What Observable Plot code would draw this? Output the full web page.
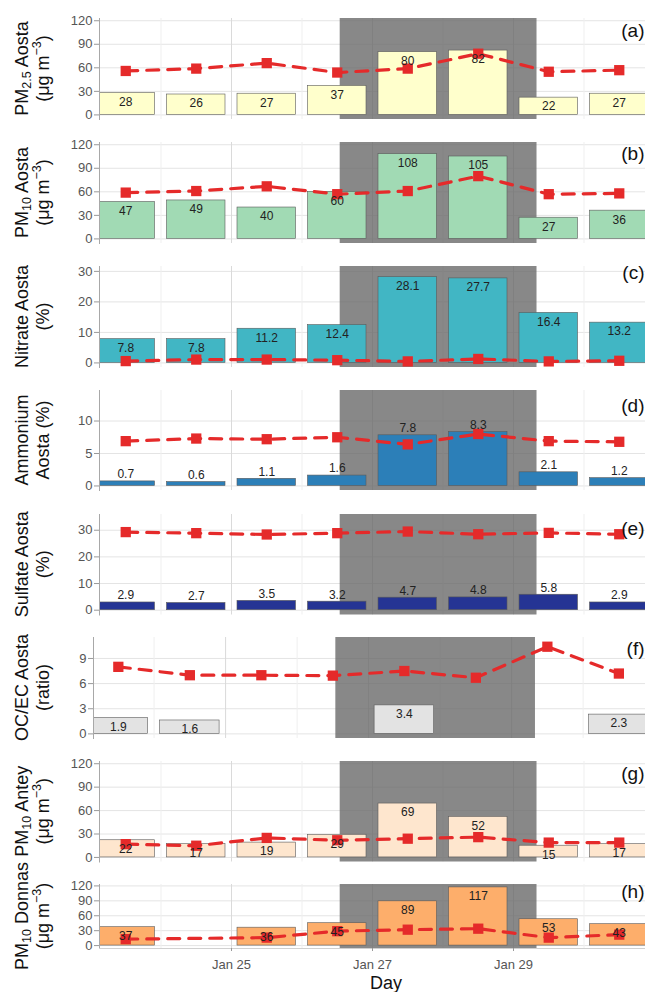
<!DOCTYPE html>
<html><head><meta charset="utf-8">
<script src="https://cdn.jsdelivr.net/npm/d3@7"></script>
<script src="https://cdn.jsdelivr.net/npm/@observablehq/plot@0.6"></script>
<style>
html,body{margin:0;padding:0;background:#fff;overflow:hidden;}
#chart{position:relative;width:645px;height:992px;overflow:hidden;font-family:"Liberation Sans",Arial,sans-serif;}
#chart svg{position:absolute;left:0;overflow:visible;}
</style></head><body><div id="chart"></div>
<script>
// ---- data ----
const days = ["2017-01-23T12:00Z","2017-01-24T12:00Z","2017-01-25T12:00Z","2017-01-26T12:00Z",
              "2017-01-27T12:00Z","2017-01-28T12:00Z","2017-01-29T12:00Z","2017-01-30T12:00Z"];
const eventStart = "2017-01-26T13:00Z";
const eventEnd = "2017-01-29T08:00Z";
const majorTicks = ["2017-01-25","2017-01-27","2017-01-29"];
const minorTicks = ["2017-01-24","2017-01-26","2017-01-28","2017-01-30"];
const pmTicks = [0, 30, 60, 90, 120];
const pctTicks = [0, 10, 20, 30];
const ammTicks = [0, 5, 10];
const ratioTicks = [0, 3, 6, 9];

const pm25Aosta      = [28, 26, 27, 37, 80, 82, 22, 27];
const pm25AostaLine  = [56, 59, 66, 54, 59, 78, 55, 57];
const pm10Aosta      = [47, 49, 40, 60, 108, 105, 27, 36];
const pm10AostaLine  = [59, 61, 67, 57, 61, 80, 57, 58];
const nitrate        = [7.8, 7.8, 11.2, 12.4, 28.1, 27.7, 16.4, 13.2];
const nitrateLine    = [0.6, 1.1, 1.1, 0.9, 0.5, 1.3, 0.5, 0.7];
const ammonium       = [0.7, 0.6, 1.1, 1.6, 7.8, 8.3, 2.1, 1.2];
const ammoniumLine   = [6.9, 7.3, 7.2, 7.5, 6.4, 8.0, 6.9, 6.8];
const sulfate        = [2.9, 2.7, 3.5, 3.2, 4.7, 4.8, 5.8, 2.9];
const sulfateLine    = [29.3, 28.9, 28.4, 28.9, 29.5, 28.5, 29.0, 28.5];
const ocec           = [1.9, 1.6, null, null, 3.4, null, null, 2.3];
const ocecLine       = [8.0, 7.0, 7.0, 6.95, 7.5, 6.7, 10.4, 7.2];
const pm10Antey      = [22, 17, 19, 29, 69, 52, 15, 17];
const pm10AnteyLine  = [17, 15, 25, 22, 24, 26, 19, 19];
const pm10Donnas     = [37, null, 36, 45, 89, 117, 53, 43];
const pm10DonnasLine = [13, null, 16, 29, 32, 34, 16, 22];

const xLabel = "Day";

// ---- layout ----
const RED = "#e52a2a";
const FONT = "'Liberation Sans', Arial, sans-serif";
const D = s => new Date(s);
const start0 = D("2017-01-23T03:04Z"), startF = D("2017-01-23T03:40Z"), end0 = D("2017-01-30T20:56Z");

const ugm = [[["(μg m"],["−3","sup"],[")"]]];
const panels = [
  {tag:"(a)", v:pm25Aosta, l:pm25AostaLine, fill:"#ffffcc", dom:[-5.85,122.85], ticks:pmTicks, top:18, h:101, lab:9, tagDy:12,
   title:[[["PM"],["2.5","sub"],[" Aosta"]], ...ugm]},
  {tag:"(b)", v:pm10Aosta, l:pm10AostaLine, fill:"#a1dab4", dom:[-5.85,122.85], ticks:pmTicks, top:142, h:101, lab:9, tagDy:11,
   title:[[["PM"],["10","sub"],[" Aosta"]], ...ugm]},
  {tag:"(c)", v:nitrate, l:nitrateLine, fill:"#41b6c4", dom:[-1.5,31.6], ticks:pctTicks, top:266, h:101, lab:9, tagDy:6,
   title:[[["Nitrate Aosta"]],[["(%)"]]]},
  {tag:"(d)", v:ammonium, l:ammoniumLine, fill:"#2c7fb8", dom:[-0.7,14.7], ticks:ammTicks, top:389.5, h:100, lab:-7, tagDy:15,
   title:[[["Ammonium"]],[["Aosta (%)"]]]},
  {tag:"(e)", v:sulfate, l:sulfateLine, fill:"#253494", dom:[-1.8,35.9], ticks:pctTicks, top:513.5, h:100.5, lab:-7, tagDy:14,
   title:[[["Sulfate Aosta"]],[["(%)"]]]},
  {tag:"(f)", v:ocec, l:ocecLine, fill:"#e3e3e3", dom:[-0.55,11.5], ticks:ratioTicks, top:637, h:101, lab:9, tagDy:11, ml:93, start:startF,
   title:[[["OC/EC Aosta"]],[["(ratio)"]]]},
  {tag:"(g)", v:pm10Antey, l:pm10AnteyLine, fill:"#fee6ce", dom:[-5.85,122.85], ticks:pmTicks, top:761, h:100.5, lab:9, tagDy:12,
   title:[[["PM"],["10","sub"],[" Antey"]], ...ugm]},
  {tag:"(h)", v:pm10Donnas, l:pm10DonnasLine, fill:"#fdae6b", dom:[-5.85,122.85], ticks:pmTicks, top:884, h:64, lab:9, tagDy:7, last:true,
   title:[[["PM"],["10","sub"],[" Donnas"]], ...ugm]},
];

const chart = document.getElementById("chart");
const MT = 12;

panels.forEach(p => {
  const ml = p.ml || 99;
  const mb = p.last ? 992 - (p.top + p.h) : 12;
  const bars = days.map((d, i) => ({date: D(d), v: p.v[i]})).filter(d => d.v != null)
    .map(d => ({...d, x1: d3.utcDay.floor(d.date), x2: d3.utcDay.offset(d3.utcDay.floor(d.date), 1)}));
  const pts = days.map((d, i) => ({date: D(d), v: p.l[i]})).filter(d => d.v != null);
  const marks = [
    Plot.gridY({ticks: p.ticks, stroke: "#e4e4e4", strokeOpacity: 1}),
    Plot.gridX({ticks: minorTicks.map(D), stroke: "#efefef", strokeOpacity: 1}),
    Plot.gridX({ticks: majorTicks.map(D), stroke: "#dadada", strokeOpacity: 1}),
    Plot.rect([{s: D(eventStart), e: D(eventEnd)}], {x1: "s", x2: "e", fill: "#666666", fillOpacity: 0.78}),
    Plot.rectY(bars, {x1: "x1", x2: "x2", y: "v", fill: p.fill, stroke: "#5a5a5a", strokeWidth: 0.6, insetLeft: 6, insetRight: 6, clip: true}),
    Plot.line(pts, {x: "date", y: "v", stroke: RED, strokeWidth: 3.2, strokeDasharray: "12,9"}),
    Plot.dot(pts, {x: "date", y: "v", symbol: "square", r: 5.8, fill: RED, stroke: null}),
    Plot.text(bars, {x: "date", y: "v", text: d => String(d.v), dy: p.lab, fontSize: 12, fill: "#222"}),
    Plot.text([p.tag], {frameAnchor: "top-right", text: d => d, textAnchor: "end", lineAnchor: "middle", dx: -1, dy: p.tagDy, fontSize: 19, fill: "#111"}),
    Plot.axisY({ticks: p.ticks, tickSize: 5, tickPadding: 2, fontSize: 13, fill: "#555", stroke: "#999", label: null}),
    Plot.frame({anchor: "left", stroke: "#a8a8a8"})
  ];
  if (p.last) {
    marks.push(Plot.frame({anchor: "bottom", stroke: "#d0d0d0"}));
    marks.push(Plot.axisX({ticks: majorTicks.map(D), tickFormat: d3.utcFormat("%b %-d"), tickSize: 3, tickPadding: 8, fontSize: 13, fill: "#555", stroke: "#999", label: null}));
  }
  const svg = Plot.plot({
    width: 645, height: MT + p.h + mb,
    marginLeft: ml, marginRight: 0, marginTop: MT, marginBottom: mb,
    style: {fontFamily: FONT, fontSize: "13px", background: "transparent"},
    x: {type: "utc", domain: [p.start || start0, end0], axis: null},
    y: {domain: p.dom, axis: null},
    marks
  });
  const svgTop = p.top - MT;
  svg.style.top = svgTop + "px";
  const sel = d3.select(svg);
  const cy = MT + p.h / 2;
  const xs = [28, 49];
  p.title.forEach((line, li) => {
    const t = sel.append("text")
      .attr("transform", `translate(${xs[li]},${cy}) rotate(-90)`)
      .attr("text-anchor", "middle")
      .attr("font-family", FONT).attr("font-size", 18).attr("fill", "#111");
    line.forEach(([s, kind]) => {
      const ts = t.append("tspan").text(s);
      if (kind === "sub") ts.attr("font-size", 12.5).attr("baseline-shift", "-3");
      if (kind === "sup") ts.attr("font-size", 12.5).attr("baseline-shift", "8");
    });
  });
  if (p.last) {
    sel.append("text").attr("x", 386).attr("y", 989 - svgTop)
      .attr("text-anchor", "middle").attr("font-family", FONT).attr("font-size", 18).attr("fill", "#111")
      .text(xLabel);
  }
  chart.appendChild(svg);
});
</script></body></html>
